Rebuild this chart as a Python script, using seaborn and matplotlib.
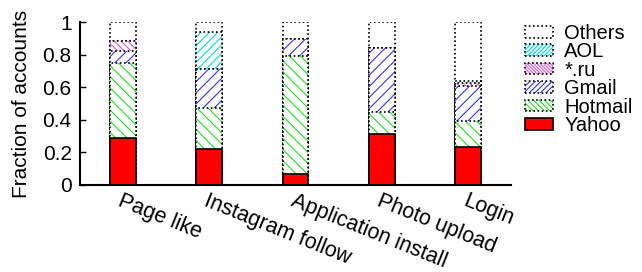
import matplotlib
matplotlib.use("Agg")
import matplotlib.pyplot as plt
import seaborn as sns
import pandas as pd
import numpy as np
from matplotlib.patches import Patch
from matplotlib.legend_handler import HandlerTuple

categories = ["Page like", "Instagram follow", "Application install", "Photo upload", "Login"]
yahoo   = [0.290, 0.220, 0.067, 0.313, 0.230]
hotmail = [0.456, 0.250, 0.726, 0.137, 0.163]
gmail   = [0.078, 0.240, 0.100, 0.389, 0.214]
ru      = [0.059, 0.000, 0.000, 0.004, 0.020]
aol     = [0.000, 0.227, 0.000, 0.000, 0.012]
others  = [0.117, 0.063, 0.107, 0.157, 0.361]
yticks = [0, 0.2, 0.4, 0.6, 0.8, 1]
ytick_labels = ["0", "0.2", "0.4", "0.6", "0.8", "1"]

sns.set_theme(style="white")
plt.rcParams["font.family"] = ["Liberation Sans", "DejaVu Sans"]
plt.rcParams["hatch.linewidth"] = 0.8
plt.rcParams["text.color"] = "black"
plt.rcParams["axes.labelcolor"] = "black"
plt.rcParams["xtick.color"] = "black"
plt.rcParams["ytick.color"] = "black"

# layers from bottom to top: (name, values, hatch color, hatch)
layers = [
    ("Yahoo", yahoo, "red", None),
    ("Hotmail", hotmail, "#22dd22", "\\\\\\"),
    ("Gmail", gmail, "#3333ff", "///"),
    ("*.ru", ru, "#dd55dd", "\\\\\\\\\\"),
    ("AOL", aol, "#00dddd", "////"),
    ("Others", others, "white", None),
]

df = pd.DataFrame({"cat": categories})
cum = np.zeros(len(categories))
tops = []
for name, vals, col, h in layers:
    cum = cum + np.array(vals)
    tops.append(cum.copy())

fig = plt.figure(figsize=(6.42, 2.72), dpi=100)
ax = fig.add_axes([0.1246, 0.32, 0.6715, 0.599])

dots = (0, (1, 1.5))
handles = {}
for (name, vals, col, h), top in reversed(list(zip(layers, tops))):
    d = df.copy()
    d["v"] = top
    if name == "Yahoo":
        sns.barplot(data=d, x="cat", y="v", order=categories, width=0.3, ax=ax,
                    color="red", saturation=1, edgecolor="black", linewidth=1.2,
                    errorbar=None)
        handles[name] = Patch(facecolor="red", edgecolor="black", linewidth=1.2)
    else:
        sns.barplot(data=d, x="cat", y="v", order=categories, width=0.3, ax=ax,
                    color="white", saturation=1, facecolor="white",
                    edgecolor=col if h else "white", hatch=h, linewidth=0,
                    errorbar=None)
        sns.barplot(data=d, x="cat", y="v", order=categories, width=0.3, ax=ax,
                    color="white", facecolor="none", edgecolor="black",
                    linestyle=dots, linewidth=1.2, errorbar=None)
        hh = (h + h) if h else None
        p1 = Patch(facecolor="white", edgecolor=col if h else "white", hatch=hh, linewidth=0)
        p2 = Patch(facecolor="none", edgecolor="black", linestyle=dots, linewidth=1.2)
        handles[name] = (p1, p2)

ax.set_xlim(-0.5, 4.5)
ax.set_ylim(0, 1)
ax.set_yticks(yticks)
ax.set_yticklabels(ytick_labels, fontsize=15)
ax.set_xticks(range(len(categories)))
ax.set_xticklabels(categories, rotation=-22, ha="left", va="top",
                   rotation_mode="anchor", fontsize=15.5)
ax.tick_params(axis="x", length=0, pad=4)
ax.tick_params(axis="y", direction="in", length=4, width=1, left=True, pad=6)
ax.set_xlabel("")
ax.set_ylabel("Fraction of accounts", fontsize=15, labelpad=8)
for s in ["top", "right"]:
    ax.spines[s].set_visible(False)
for s in ["left", "bottom"]:
    ax.spines[s].set_color("black")
    ax.spines[s].set_linewidth(1.5)

order = ["Others", "AOL", "*.ru", "Gmail", "Hotmail", "Yahoo"]
leg = fig.legend([handles[n] for n in order], order, loc="upper left",
                 bbox_to_anchor=(0.818, 0.912), frameon=False, fontsize=14.5,
                 handlelength=1.4, handleheight=0.5, handletextpad=0.55,
                 labelspacing=-0.03, borderaxespad=0, borderpad=0,
                 handler_map={tuple: HandlerTuple(ndivide=1, pad=0)})

fig.savefig("out.png", dpi=100)
